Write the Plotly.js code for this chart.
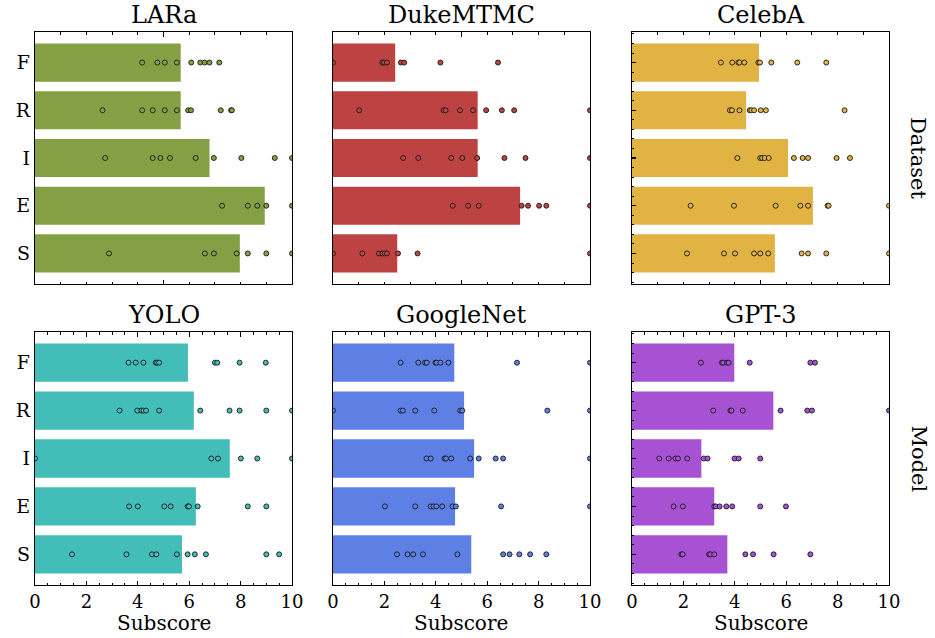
<!DOCTYPE html>
<html>
<head>
<meta charset="utf-8">
<script src="https://cdn.plot.ly/plotly-3.0.1.min.js"></script>
<style>html,body{margin:0;padding:0;background:#fff;}#chart{width:935px;height:638px;}</style>
</head>
<body>
<div id="chart"></div>
<script>
// ---------- data ----------
const categories = ['F', 'R', 'I', 'E', 'S'];
const panelTitles = ['LARa', 'DukeMTMC', 'CelebA', 'YOLO', 'GoogleNet', 'GPT-3'];
const rowLabels = ['Dataset', 'Model'];
const xTickLabels = ['0', '2', '4', '6', '8', '10'];
const xAxisLabel = 'Subscore';

// bar values in category order F, R, I, E, S
const laraBars = [5.67, 5.67, 6.79, 8.94, 7.97];
const dukeBars = [2.42, 5.63, 5.63, 7.28, 2.50];
const celebaBars = [4.94, 4.44, 6.07, 7.04, 5.56];
const yoloBars = [5.95, 6.18, 7.58, 6.26, 5.72];
const googlenetBars = [4.72, 5.10, 5.49, 4.75, 5.38];
const gpt3Bars = [3.98, 5.50, 2.70, 3.20, 3.71];

// individual subscores per category (F, R, I, E, S)
const laraF = [4.17, 4.76, 5.05, 5.52, 6.08, 6.43, 6.60, 6.79, 7.17];
const laraR = [2.63, 4.17, 4.58, 5.05, 5.52, 5.96, 6.07, 7.23, 7.63, 7.66];
const laraI = [2.73, 4.58, 4.88, 5.25, 6.25, 6.96, 8.03, 9.33, 10];
const laraE = [7.28, 8.28, 8.65, 9.0, 10];
const laraS = [2.88, 6.61, 6.96, 7.85, 8.28, 9.0, 10];

const dukeF = [0, 1.92, 1.99, 2.10, 2.64, 2.77, 4.18, 6.42];
const dukeR = [1.02, 4.30, 4.38, 4.94, 5.45, 5.96, 6.57, 7.05, 10];
const dukeI = [2.73, 3.32, 4.60, 5.03, 5.61, 6.67, 7.49, 10];
const dukeE = [4.66, 5.26, 5.67, 7.34, 7.59, 8.02, 8.30, 10];
const dukeS = [0, 1.14, 1.79, 1.92, 2.01, 2.10, 2.53, 3.29, 10];

const celebaF = [3.46, 3.90, 4.14, 4.18, 4.37, 4.92, 4.98, 5.42, 6.43, 7.56];
const celebaR = [3.81, 3.89, 4.18, 4.58, 4.64, 4.75, 5.01, 5.21, 8.27];
const celebaI = [4.10, 4.99, 5.06, 5.16, 5.32, 6.30, 6.64, 6.85, 7.96, 8.48];
const celebaE = [2.28, 3.97, 5.59, 6.55, 6.85, 7.61, 7.65, 10];
const celebaS = [2.14, 3.58, 4.01, 4.75, 4.99, 5.30, 6.60, 6.85, 7.56, 10];

const yoloF = [3.64, 3.92, 4.22, 4.70, 4.75, 4.83, 7.00, 7.09, 7.96, 8.98];
const yoloR = [3.29, 3.98, 4.14, 4.22, 4.32, 4.83, 6.43, 7.57, 7.96, 9.00, 10];
const yoloI = [0, 6.86, 7.12, 8.01, 8.65, 10];
const yoloE = [3.66, 4.00, 5.03, 5.28, 5.94, 5.99, 6.33, 8.28, 9.00];
const yoloS = [1.44, 3.56, 4.55, 4.72, 5.52, 5.94, 6.22, 6.65, 9.00, 9.50];

const googlenetF = [2.63, 3.32, 3.58, 3.65, 3.99, 4.03, 4.18, 4.49, 7.16, 10];
const googlenetR = [0, 2.63, 2.72, 3.20, 3.94, 4.95, 5.03, 8.34, 10];
const googlenetI = [3.64, 3.80, 4.34, 4.40, 4.60, 5.34, 5.67, 6.33, 6.62, 10];
const googlenetE = [2.02, 3.20, 3.80, 3.91, 4.02, 4.25, 4.65, 4.78, 6.54, 10];
const googlenetS = [2.49, 2.90, 3.12, 3.50, 4.84, 6.62, 6.87, 7.25, 7.67, 8.30];

const gpt3F = [2.68, 3.50, 3.55, 3.70, 3.76, 4.58, 6.94, 7.12];
const gpt3R = [3.16, 3.83, 3.87, 4.31, 5.78, 6.82, 7.00, 10];
const gpt3I = [1.06, 1.43, 1.69, 1.79, 2.15, 2.79, 2.94, 3.99, 4.15, 4.99];
const gpt3E = [1.62, 1.98, 3.20, 3.26, 3.41, 3.67, 3.90, 4.99, 5.99];
const gpt3S = [1.92, 1.97, 3.00, 3.05, 3.20, 4.41, 4.71, 5.51, 6.94];

// ---------- styles ----------
const colors = ['#83a044', '#bd4343', '#e1b343', '#43bdb8', '#5e7fe3', '#a652d3'];
const FONT = 'DejaVu Serif, Liberation Serif, serif';

const panels = [
  {bars: laraBars, dots: [laraF, laraR, laraI, laraE, laraS]},
  {bars: dukeBars, dots: [dukeF, dukeR, dukeI, dukeE, dukeS]},
  {bars: celebaBars, dots: [celebaF, celebaR, celebaI, celebaE, celebaS]},
  {bars: yoloBars, dots: [yoloF, yoloR, yoloI, yoloE, yoloS]},
  {bars: googlenetBars, dots: [googlenetF, googlenetR, googlenetI, googlenetE, googlenetS]},
  {bars: gpt3Bars, dots: [gpt3F, gpt3R, gpt3I, gpt3E, gpt3S]}
];

const W = 935, H = 638;
const colPx = [[35, 292], [333, 590], [632, 889]];
const rowPx = [[32, 284], [332, 585]];

const traces = [];
const layout = {
  width: W, height: H,
  margin: {l: 0, r: 0, t: 0, b: 0, pad: 0},
  paper_bgcolor: '#fff', plot_bgcolor: '#fff',
  showlegend: false,
  font: {family: FONT, color: '#000'},
  annotations: []
};

const catIdx = categories.map((_, i) => i);

panels.forEach((p, k) => {
  const n = k + 1;
  const r = Math.floor(k / 3), c = k % 3;
  const xa = 'x' + n, ya = 'y' + n;
  const xd = [colPx[c][0] / W, colPx[c][1] / W];
  const yd = [1 - rowPx[r][1] / H, 1 - rowPx[r][0] / H];

  traces.push({
    type: 'bar', orientation: 'h',
    x: p.bars, y: catIdx, width: 0.8,
    marker: {color: colors[k], line: {width: 0}},
    xaxis: xa, yaxis: ya, hoverinfo: 'skip'
  });
  const dx = [], dy = [];
  p.dots.forEach((arr, i) => arr.forEach(v => { dx.push(v); dy.push(i); }));
  traces.push({
    type: 'scatter', mode: 'markers',
    x: dx, y: dy,
    marker: {size: 5, color: colors[k], line: {color: 'rgba(25,25,25,0.9)', width: 1}},
    xaxis: xa, yaxis: ya, hoverinfo: 'skip', cliponaxis: true
  });

  const xKey = 'xaxis' + (n === 1 ? '' : n);
  const yKey = 'yaxis' + (n === 1 ? '' : n);
  layout[xKey] = {
    domain: xd, anchor: ya, range: [0, 10],
    showgrid: false, zeroline: false,
    showline: true, mirror: 'allticks', linecolor: '#000', linewidth: 1.2,
    ticks: 'inside', ticklen: 4.5, tickwidth: 1, tickcolor: '#000',
    tickmode: r === 1 ? 'array' : 'linear',
    tickvals: r === 1 ? xTickLabels.map(Number) : undefined,
    ticktext: r === 1 ? xTickLabels : undefined,
    tick0: 0, dtick: r === 1 ? 2 : 5,
    minor: {ticks: 'inside', ticklen: 2.5, tickwidth: 1, tickcolor: '#000', tick0: 0, dtick: r === 1 ? 0.5 : 1, showgrid: false},
    showticklabels: r === 1,
    tickfont: {family: FONT, size: 18, color: '#000'},
    fixedrange: true
  };
  const yax = {
    domain: yd, anchor: xa, range: [4.64, -0.64],
    showgrid: false, zeroline: false,
    showline: true, mirror: true, linecolor: '#000', linewidth: 1.2,
    tickmode: 'array', tickvals: catIdx, ticktext: categories,
    showticklabels: c === 0,
    ticks: c === 2 ? 'inside' : '', ticklen: 4, tickwidth: 1.5, tickcolor: '#000',
    tickfont: {family: FONT, size: 19, color: '#000'},
    fixedrange: true
  };
  if (c === 2) {
    yax.minor = {ticks: 'inside', ticklen: 2, tickwidth: 1, tickcolor: '#000', tick0: 0, dtick: 0.2, showgrid: false};
  }
  layout[yKey] = yax;

  layout.annotations.push({
    text: panelTitles[k], xref: 'paper', yref: 'paper',
    x: (xd[0] + xd[1]) / 2, y: yd[1], xanchor: 'center', yanchor: 'bottom', yshift: 1,
    showarrow: false, font: {family: FONT, size: 24, color: '#000'}
  });
  if (r === 1) {
    layout.annotations.push({
      text: xAxisLabel, xref: 'paper', yref: 'paper',
      x: (xd[0] + xd[1]) / 2, y: 1 - 623 / H, xanchor: 'center', yanchor: 'middle',
      showarrow: false, font: {family: FONT, size: 20, color: '#000'}
    });
  }
});

rowLabels.forEach((t, r) => {
  layout.annotations.push({
    text: t, xref: 'paper', yref: 'paper',
    x: 918 / W, y: 1 - (rowPx[r][0] + rowPx[r][1]) / 2 / H,
    xanchor: 'center', yanchor: 'middle', textangle: 90,
    showarrow: false, font: {family: FONT, size: 21, color: '#000'}
  });
});

Plotly.newPlot('chart', traces, layout, {displayModeBar: false, staticPlot: true});
</script>
</body>
</html>
